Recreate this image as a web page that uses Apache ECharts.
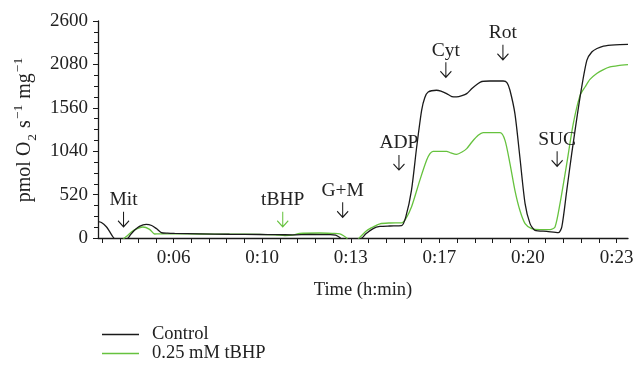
<!DOCTYPE html>
<html>
<head>
<meta charset="utf-8">
<script src="https://cdn.jsdelivr.net/npm/echarts@6/dist/echarts.min.js"></script>
<style>
  html, body { margin: 0; padding: 0; background: #fff; }
  #main { width: 633px; height: 370px; }
</style>
</head>
<body>
<div id="main"></div>
<script>
// time in minutes, O2 flux in pmol O2 s-1 mg-1
var controlTime = [3.40, 3.53, 3.72, 3.84, 3.97, 4.06, 4.26, 4.54, 4.65, 4.80, 4.99, 5.25, 5.46, 5.64, 5.83, 6.07, 6.34,
  7.30, 8.45, 9.60, 10.26, 10.87, 11.53, 12.29, 12.52, 12.68, 12.79, 13.14, 13.51, 13.68, 13.96, 14.22, 14.60, 15.05,
  15.21, 15.43, 15.63, 15.82, 15.94, 16.07, 16.39, 16.56, 16.78, 16.98, 17.16, 17.37, 17.55, 17.75, 17.99, 18.13, 18.44,
  18.95, 19.10, 19.21, 19.40, 19.59, 19.79, 19.98, 20.17, 20.62, 21.07, 21.20, 21.39, 21.58, 21.90, 22.16, 22.35, 22.55,
  22.80, 23.24, 23.74];
var controlValues = [195, 185, 135, 80, 15, -20, -60, -5, 40, 92, 140, 164, 150, 113, 65, 58, 55,
  50, 45, 42, 40, 38, 42, 40, 35, 5, -30, -60, -5, 50, 113, 138, 144, 148,
  250, 571, 1090, 1530, 1680, 1749, 1770, 1760, 1730, 1695, 1690, 1705, 1730, 1790, 1850, 1875, 1881,
  1881, 1860, 1770, 1490, 970, 412, 172, 92, 80, 65, 132, 571, 1011, 1689, 2129, 2228, 2270,
  2300, 2315, 2320];

var tbhpTime = [4.34, 4.39, 4.50, 4.68, 4.88, 5.12, 5.38, 5.57, 5.76, 6.34, 7.30, 8.45, 9.60, 10.26, 10.57, 10.87, 11.14,
  11.91, 12.41, 12.68, 12.81, 12.94, 13.02, 13.25, 13.41, 13.52, 13.72, 13.96, 14.22, 14.60, 15.05, 15.21, 15.43, 15.75,
  16.01, 16.14, 16.26, 16.78, 16.94, 17.16, 17.37, 17.55, 17.75, 17.99, 18.18, 18.83, 19.02, 19.21, 19.40, 19.59, 19.79,
  20.04, 20.36, 20.75, 20.94, 21.13, 21.39, 21.64, 21.90, 22.09, 22.28, 22.54, 22.78, 23.05, 23.36, 23.74];
var tbhpValues = [-30, -5, 20, 72, 110, 132, 104, 48, 50, 50, 48, 45, 44, 36, 30, 35, 55,
  60, 55, 50, 30, 0, -40, -60, -5, 30, 90, 132, 170, 180, 182, 230, 371, 691,
  931, 1010, 1039, 1039, 1020, 1003, 1030, 1071, 1150, 1230, 1262, 1262, 1170, 891, 571, 332, 172,
  113, 100, 100, 132, 412, 891, 1370, 1709, 1809, 1900, 1970, 2015, 2049, 2065, 2077];

var tickLabels = ['0:06', '0:10', '0:13', '0:17', '0:20', '0:23'];
var labelTimes = [6.3, 9.7, 13.1, 16.5, 19.9, 23.3];

// injections: name, time, flux level at the arrow
var eventNames = ['Mit', 'tBHP', 'G+M', 'ADP', 'Cyt', 'Rot', 'SUC'];
var eventTimes = [4.38, 10.49, 12.79, 14.95, 16.75, 18.94, 21.02];
var eventLevels = [224, 224, 338, 905, 2015, 2225, 949];

var black = '#1a1a1a';
var green = '#66c23e';
var font = 'Liberation Serif';

var tickTimes = [];
for (var t = 3.58; t < 23.75; t += 0.68) tickTimes.push(Math.round(t * 100) / 100);

function pairs(xs, ys) {
  return xs.map(function (x, i) { return [x, ys[i]]; });
}

var marks = eventNames.map(function (n, i) {
  return {
    name: n,
    coord: [eventTimes[i], eventLevels[i]],
    itemStyle: { color: 'transparent', borderColor: n === 'tBHP' ? green : black, borderWidth: 1.2 }
  };
});

var chart = echarts.init(document.getElementById('main'));
chart.setOption({
  animation: false,
  textStyle: { fontFamily: font },
  grid: { left: 98, right: 5, top: 21, bottom: 132, outerBoundsMode: 'none' },
  legend: {
    orient: 'vertical',
    left: 97,
    top: 320,
    icon: 'rect',
    itemWidth: 37,
    itemHeight: 1.4,
    itemGap: 0,
    textStyle: { fontFamily: font, fontSize: 18.5, color: '#222', lineHeight: 18, padding: [0, 0, 0, 8] },
    data: ['Control', '0.25 mM tBHP']
  },
  xAxis: {
    type: 'value',
    min: 3.4,
    max: 23.74,
    name: 'Time (h:min)',
    nameLocation: 'middle',
    nameGap: 43,
    nameTextStyle: { fontFamily: font, fontSize: 18.5, color: '#222' },
    axisLine: { onZero: false, lineStyle: { color: black, width: 1.3 } },
    axisTick: { length: 5, lineStyle: { color: black, width: 1 }, customValues: tickTimes },
    axisLabel: {
      fontFamily: font, fontSize: 19, color: '#222', margin: 11,
      customValues: labelTimes,
      formatter: function (v) {
        var best = 0;
        for (var i = 1; i < labelTimes.length; i++) {
          if (Math.abs(labelTimes[i] - v) < Math.abs(labelTimes[best] - v)) best = i;
        }
        return tickLabels[best];
      }
    },
    splitLine: { show: false }
  },
  yAxis: {
    type: 'value',
    min: 0,
    max: 2600,
    interval: 520,
    name: '{n|pmol O}{sub|2}{n| s}{sup|−1}{n| mg}{sup|−1}',
    nameLocation: 'middle',
    nameGap: 62,
    nameRotate: 90,
    nameTextStyle: {
      color: '#222',
      rich: {
        n: { fontFamily: font, fontSize: 20, color: '#222', lineHeight: 22, verticalAlign: 'middle' },
        sub: { fontFamily: font, fontSize: 13.5, color: '#222', lineHeight: 22, verticalAlign: 'bottom', padding: [0, 1, -3, 1] },
        sup: { fontFamily: font, fontSize: 13.5, color: '#222', lineHeight: 22, verticalAlign: 'top', padding: [-3, 1, 0, 1] }
      }
    },
    axisLine: { show: true, lineStyle: { color: black, width: 1.3 } },
    axisTick: { show: true, length: 5, lineStyle: { color: black, width: 1 } },
    minorTick: { show: true, splitNumber: 4, length: 4, lineStyle: { color: black, width: 1 } },
    axisLabel: {
      fontFamily: font, fontSize: 19, color: '#222', margin: 10,
      formatter: function (v) { return String(v); }
    },
    splitLine: { show: false }
  },
  series: [
    {
      name: 'Control',
      type: 'line',
      data: pairs(controlTime, controlValues),
      smooth: 0.25,
      showSymbol: false,
      clip: true,
      color: black,
      lineStyle: { color: black, width: 1.3 },
      z: 3,
      markPoint: {
        symbol: 'path://M6,0 L6,15 M0,9 L6,15 L12,9',
        symbolSize: [11, 15],
        data: marks,
        label: {
          show: true,
          position: 'top',
          distance: 1,
          formatter: '{b}',
          fontFamily: font,
          fontSize: 19.5,
          color: '#222'
        }
      }
    },
    {
      name: '0.25 mM tBHP',
      type: 'line',
      data: pairs(tbhpTime, tbhpValues),
      smooth: 0.25,
      showSymbol: false,
      clip: true,
      color: green,
      lineStyle: { color: green, width: 1.3 },
      z: 2
    }
  ]
});
</script>
</body>
</html>
